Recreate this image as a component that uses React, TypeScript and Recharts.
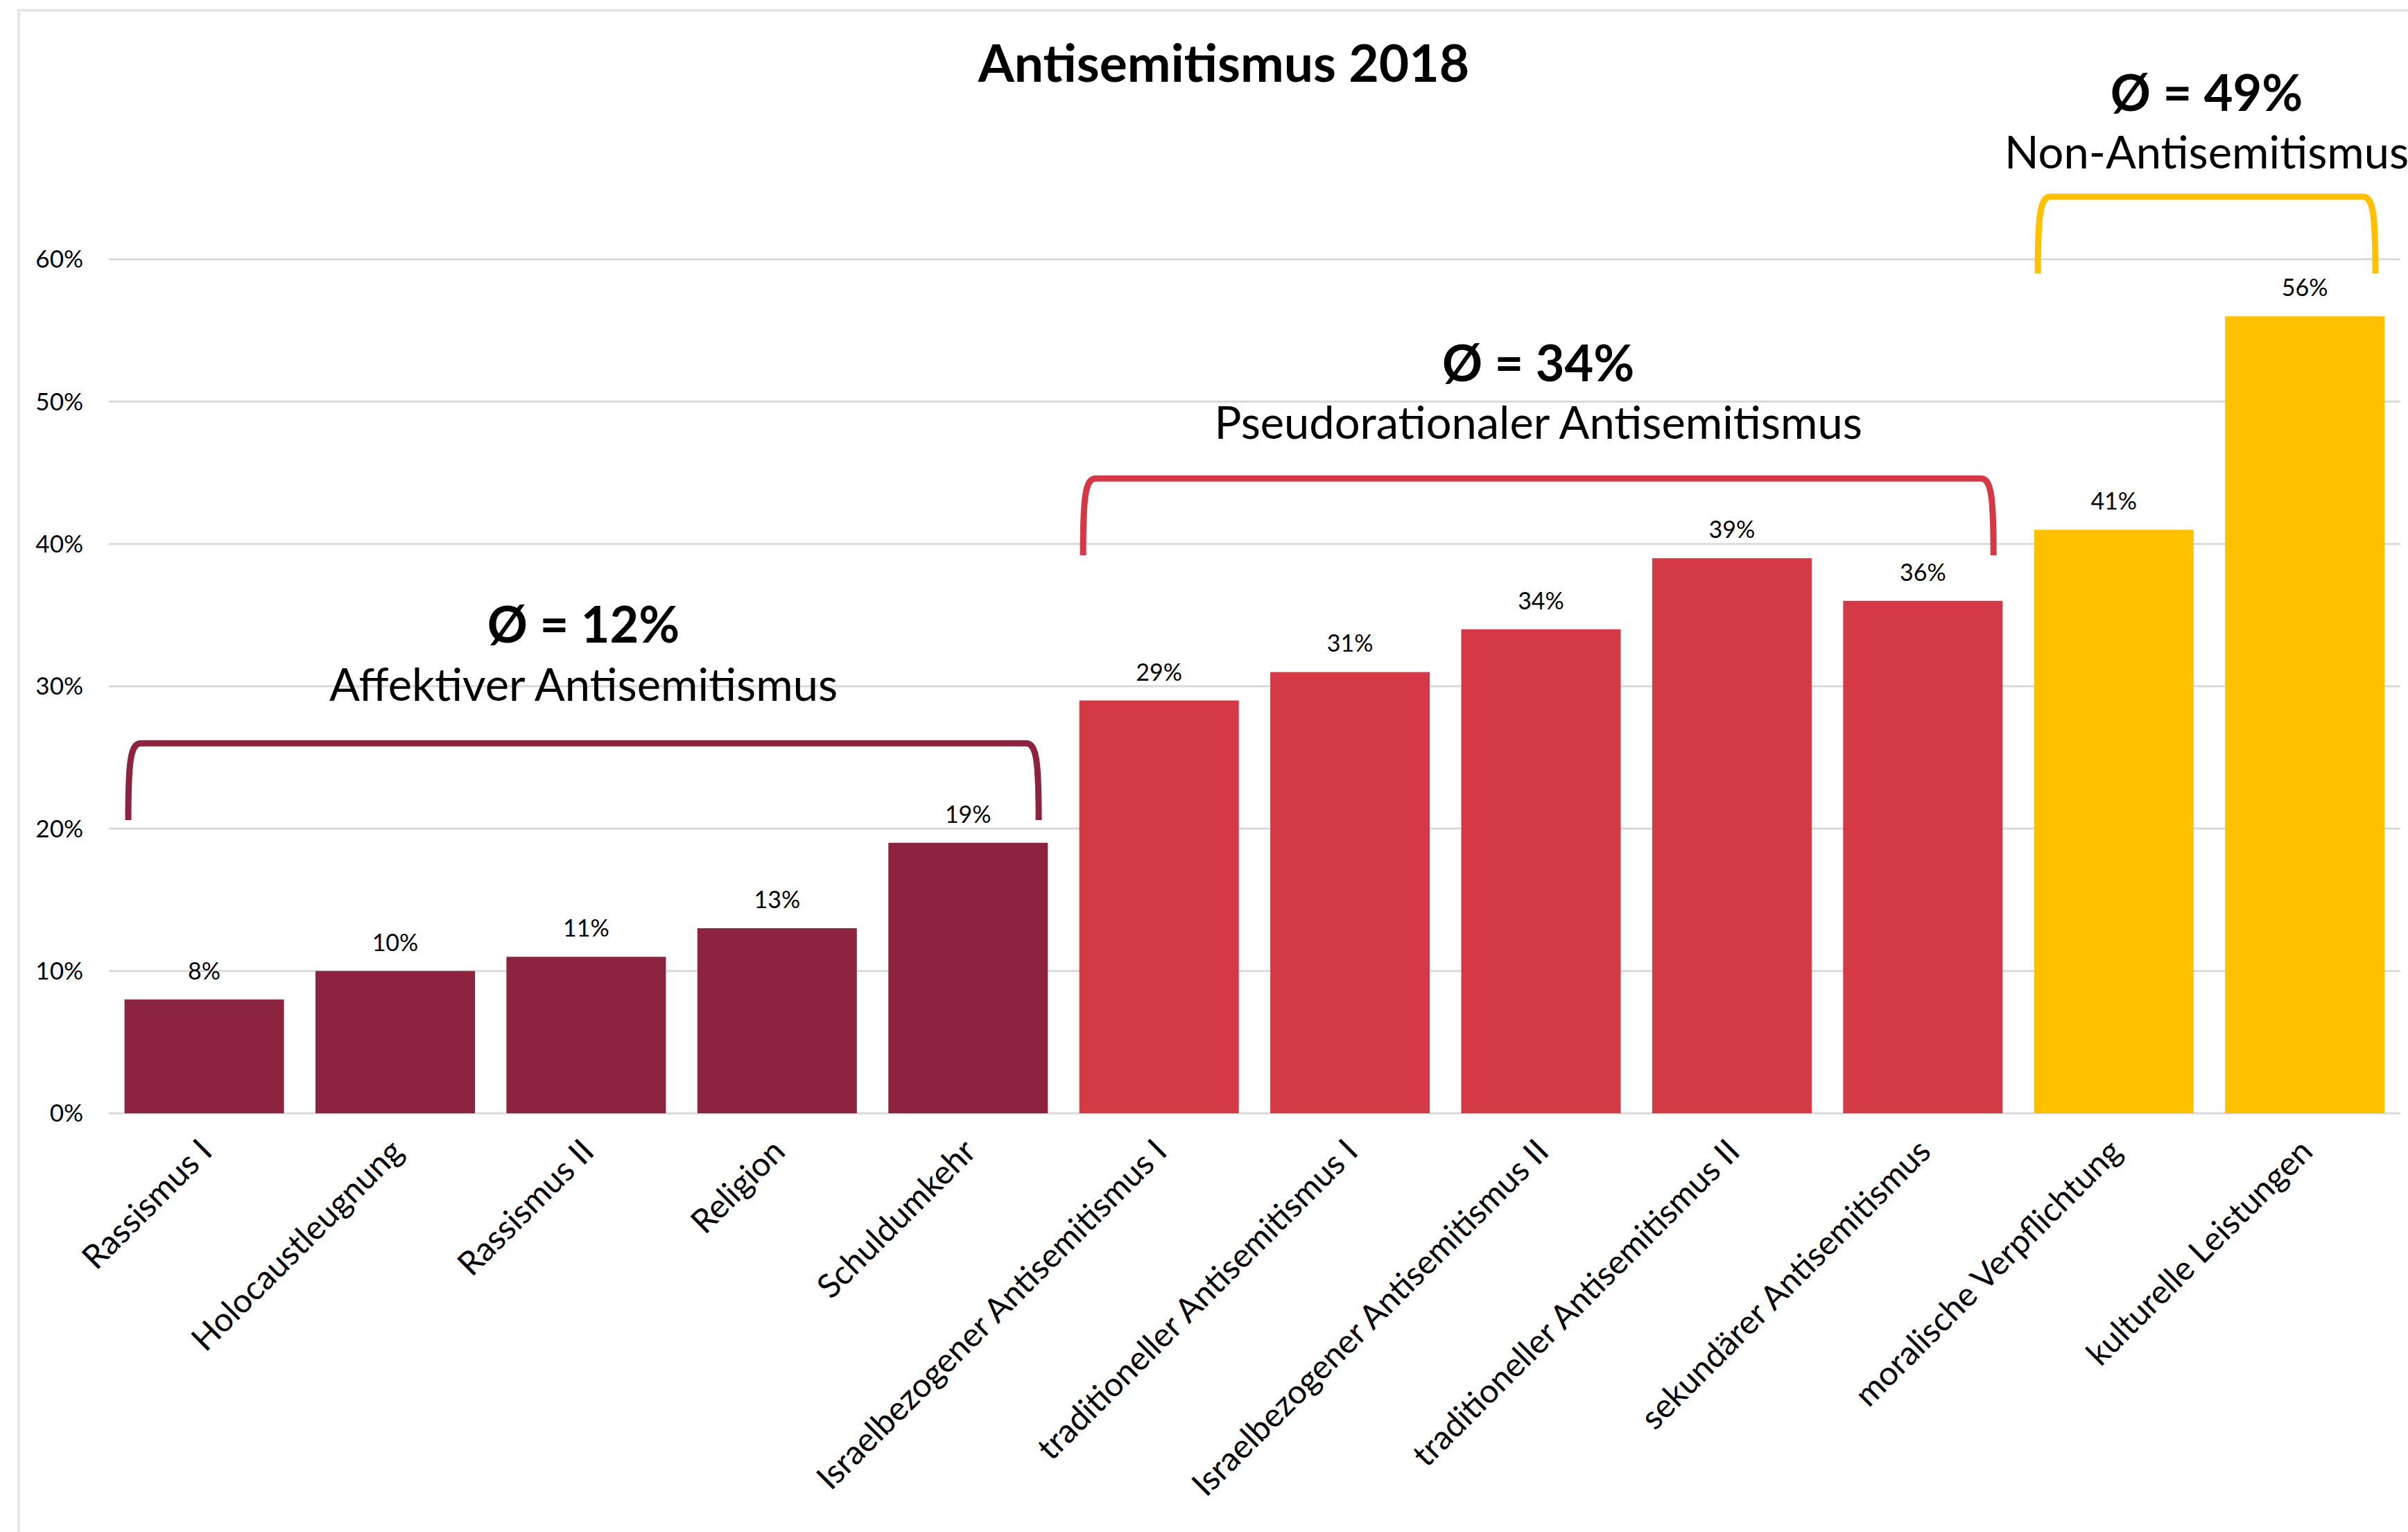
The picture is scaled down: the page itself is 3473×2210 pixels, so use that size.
import React from 'react';
import { BarChart, Bar, XAxis, YAxis, CartesianGrid, Cell, LabelList, ReferenceArea, Customized } from 'recharts';

const categories = [
  'Rassismus I',
  'Holocaustleugnung',
  'Rassismus II',
  'Religion',
  'Schuldumkehr',
  'Israelbezogener Antisemitismus I',
  'traditioneller Antisemitismus I',
  'Israelbezogener Antisemitismus II',
  'traditioneller Antisemitismus II',
  'sekundärer Antisemitismus',
  'moralische Verpflichtung',
  'kulturelle Leistungen',
];
const values = [8, 10, 11, 13, 19, 29, 31, 34, 39, 36, 41, 56];
const categoryGroup = [0, 0, 0, 0, 0, 1, 1, 1, 1, 1, 2, 2];

const groupNames = ['Affektiver Antisemitismus', 'Pseudorationaler Antisemitismus', 'Non-Antisemitismus'];
const groupAverages = [12, 34, 49];
const groupFirst = ['Rassismus I', 'Israelbezogener Antisemitismus I', 'moralische Verpflichtung'];
const groupLast = ['Schuldumkehr', 'sekundärer Antisemitismus', 'kulturelle Leistungen'];

const yTicks = [0, 10, 20, 30, 40, 50, 60];

const groupColors = ['#8C2440', '#D43946', '#FFC000'];
// bracket extent in value units (bottom of legs, top bar) and how far the labels sit above it
const bracketBottom = [20.6, 39.2, 59.0];
const bracketTop = [26.0, 44.6, 64.4];
const labelGap = [[145, 61], [140, 57], [124, 41]];

const data = categories.map((name, i) => ({ name, value: values[i], group: categoryGroup[i] }));

const FONT = 'Lato, "Noto Sans", sans-serif';

const Bracket = (props: any) => {
  const { x, y, width, height, group } = props;
  const L = x + 28;
  const R = x + width - 36;
  const T = y;
  const B = y + height;
  const cx = (L + R) / 2;
  const d = `M ${L} ${B} C ${L} ${T + 28} ${L + 3} ${T} ${L + 18} ${T} L ${R - 18} ${T} C ${R - 3} ${T} ${R} ${T + 28} ${R} ${B}`;
  return (
    <g>
      <path d={d} fill="none" stroke={groupColors[group]} strokeWidth={9} />
      <text x={cx} y={T - labelGap[group][0]} textAnchor="middle" fontFamily={FONT} fontWeight={700} fontSize={72} fill="#000">
        {`Ø = ${groupAverages[group]}%`}
      </text>
      <text x={cx} y={T - labelGap[group][1]} textAnchor="middle" fontFamily={FONT} fontSize={65} fill="#000">
        {groupNames[group]}
      </text>
    </g>
  );
};

const XTick = (props: any) => {
  const { x, y, payload } = props;
  return (
    <g transform={`translate(${x + 14},${y + 58})`}>
      <text transform="rotate(-45)" textAnchor="end" fontFamily={FONT} fontSize={48} fill="#000">
        {payload.value}
      </text>
    </g>
  );
};

const YTick = (props: any) => {
  const { x, y, payload } = props;
  return (
    <text x={x} y={y} dy="0.35em" textAnchor="end" fontFamily={FONT} fontSize={35} fill="#000">
      {`${payload.value}%`}
    </text>
  );
};

const ValueLabel = (props: any) => {
  const { x, y, width, value } = props;
  return (
    <text x={x + width / 2} y={y - 29} textAnchor="middle" fontFamily={FONT} fontSize={34} fill="#000">
      {`${value}%`}
    </text>
  );
};

const Title = () => (
  <text x={1765} y={118} textAnchor="middle" fontFamily={FONT} fontWeight={700} fontSize={75} fill="#000">
    Antisemitismus 2018
  </text>
);

export default function App() {
  return (
    <div style={{ position: 'absolute', left: 0, top: 0, width: 3473, height: 2210, background: '#fff' }}>
      <div
        style={{
          position: 'absolute',
          left: 25,
          top: 13,
          width: 3500,
          height: 2300,
          borderTop: '4px solid #E6E6E6',
          borderLeft: '4px solid #E6E6E6',
        }}
      />
      <div style={{ position: 'absolute', left: 0, top: 0 }}>
        <BarChart
          width={3473}
          height={2210}
          data={data}
          margin={{ top: 374, right: 11, left: 0, bottom: 0 }}
          barCategoryGap="8.2%"
        >
          <CartesianGrid vertical={false} stroke="#D9D9D9" strokeWidth={3} />
          <XAxis
            dataKey="name"
            height={604}
            interval={0}
            axisLine={false}
            tickLine={false}
            tickSize={0}
            tickMargin={0}
            tick={<XTick />}
          />
          <YAxis
            type="number"
            domain={[0, 60]}
            ticks={yTicks}
            width={157}
            axisLine={false}
            tickLine={false}
            tickSize={0}
            tickMargin={37}
            tick={<YTick />}
          />
          <Bar dataKey="value" isAnimationActive={false}>
            {data.map((d, i) => (
              <Cell key={i} fill={groupColors[d.group]} />
            ))}
            <LabelList dataKey="value" content={<ValueLabel />} />
          </Bar>
          {groupNames.map((_, g) => (
            <ReferenceArea
              key={g}
              x1={groupFirst[g]}
              x2={groupLast[g]}
              y1={bracketBottom[g]}
              y2={bracketTop[g]}
              ifOverflow="visible"
              shape={(p: any) => <Bracket {...p} group={g} />}
            />
          ))}
          <Customized component={<Title />} />
        </BarChart>
      </div>
    </div>
  );
}
